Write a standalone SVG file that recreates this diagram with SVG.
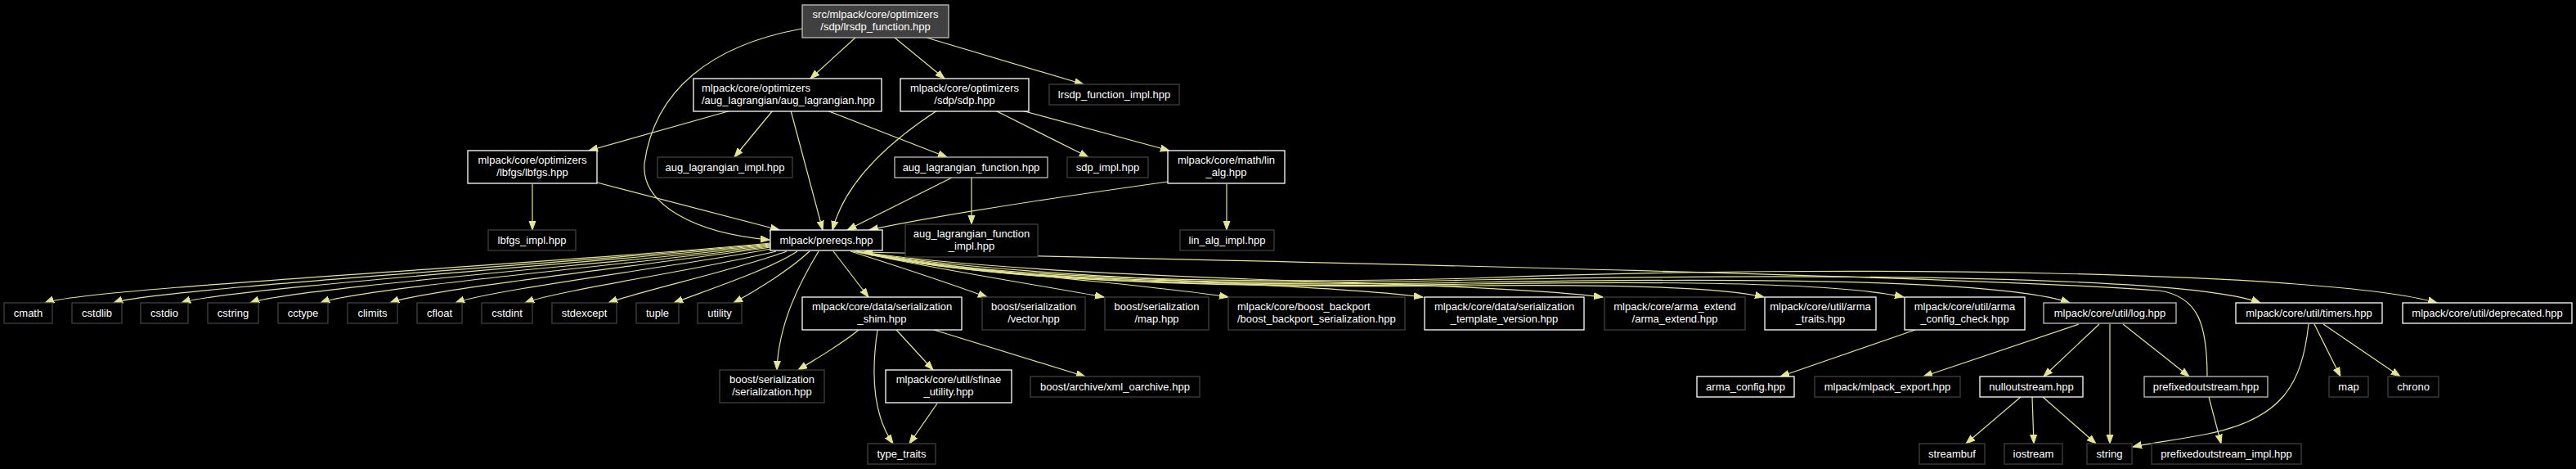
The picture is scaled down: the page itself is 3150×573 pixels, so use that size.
<svg xmlns="http://www.w3.org/2000/svg" width="3150" height="573" viewBox="0 0 3150 573">
<style>
.bg{fill:#000}
rect.w{fill:#000;stroke:#ffffff;stroke-width:1.3}
rect.g{fill:#000;stroke:#bfbfbf;stroke-width:1.3}
rect.d{fill:#000;stroke:#404040;stroke-width:1.3}
rect.r{fill:#404040;stroke:#bfbfbf;stroke-width:1.3}
text{fill:#ffffff;font-family:"Liberation Sans",Arial,Helvetica,sans-serif;font-size:13px;text-anchor:middle}
text.l{text-anchor:start}
#edges path{fill:none;stroke:#e6e68c;stroke-width:1.2;marker-end:url(#a)}
</style>
<defs>
<marker id="a" markerUnits="userSpaceOnUse" markerWidth="13" markerHeight="10" refX="11" refY="4.5" orient="auto">
<path d="M0,0.5 L11,4.5 L0,8.5 z" fill="#e6e68c" stroke="#e6e68c" stroke-width="1"/>
</marker>
</defs>
<rect class="bg" x="0" y="0" width="3150" height="573"/>
<g id="edges">
<path d="M1046,46 L991,96"/>
<path d="M1094,46 L1155,96"/>
<path d="M1133,46 L1325,103"/>
<path d="M981,35 C870,55 800,110 788,200 C784,250 850,285 941,293"/>
<path d="M894,135 L720,184"/>
<path d="M945,135 L898,192"/>
<path d="M967,135 L1006,281"/>
<path d="M1011,135 L1158,192"/>
<path d="M1146,135 C1100,165 1035,215 1018,281"/>
<path d="M1217,135 L1331,192"/>
<path d="M1249,135 L1430,184"/>
<path d="M651,225 L651,281"/>
<path d="M730,223 L953,281"/>
<path d="M1164,217 L1036,281"/>
<path d="M1188,217 L1188,274"/>
<path d="M1428,222 C1300,240 1150,262 1063,281"/>
<path d="M1500,225 L1500,281"/>
<path d="M942,297 C700,321 100,352 55,370"/>
<path d="M942,298 C720,320 185,353 139,370"/>
<path d="M942,299 C740,320 268,353 222,370"/>
<path d="M942,300 C760,321 350,353 306,370"/>
<path d="M942,301 C780,322 435,353 392,370"/>
<path d="M942,302 C800,323 518,354 477,370"/>
<path d="M943,304 C830,325 595,355 557,370"/>
<path d="M949,307 C870,327 680,355 642,370"/>
<path d="M962,307 C900,330 780,356 744,370"/>
<path d="M975,307 C940,330 860,356 824,370"/>
<path d="M990,307 C965,330 925,355 897,370"/>
<path d="M1001,307 C978,345 952,395 950,452"/>
<path d="M1019,307 L1062,363"/>
<path d="M1040,307 C1100,326 1160,346 1207,363"/>
<path d="M1043,307 C1150,330 1280,350 1350,363"/>
<path d="M1045,307 C1200,334 1420,349 1502,363"/>
<path d="M1047,307 C1250,342 1600,345 1740,363"/>
<path d="M1048,307 C1300,345 1800,342 1960,363"/>
<path d="M1048,307 C1200,344 1500,352 1800,349 C2000,347 2110,352 2157,363"/>
<path d="M1048,307 C1200,344 1500,352 1800,347 C2100,342 2260,348 2328,363"/>
<path d="M1048,307 C1200,343 1500,351 1800,345 C2200,338 2460,345 2531,370"/>
<path d="M1048,307 C1200,342 1500,350 1800,342 C2250,333 2680,338 2764,370"/>
<path d="M1048,307 C1200,340 1500,348 1800,340 C2250,322 2850,332 2980,370"/>
<path d="M2699,460 C2699,400 2690,362 2640,355 C2400,337 1500,318 1056,308"/>
<path d="M1050,403 C1030,420 1000,437 976,452"/>
<path d="M1073,403 C1066,450 1066,505 1092,542"/>
<path d="M1096,403 L1141,452"/>
<path d="M1142,403 L1327,460"/>
<path d="M1146,493 L1112,542"/>
<path d="M2342,403 L2177,460"/>
<path d="M2542,396 L2352,460"/>
<path d="M2567,396 L2499,460"/>
<path d="M2580,396 L2580,542"/>
<path d="M2596,396 L2677,460"/>
<path d="M2471,485 L2404,542"/>
<path d="M2485,485 L2487,542"/>
<path d="M2498,485 L2563,542"/>
<path d="M2701,485 L2716,542"/>
<path d="M2830,396 L2862,460"/>
<path d="M2841,396 L2935,460"/>
<path d="M2823,396 C2815,470 2790,512 2700,530 C2660,538 2630,541 2608,546"/>
</g>
<g id="n_root"><rect class="r" x="981" y="6" width="179" height="40"/><text x="1070.5" y="22">src/mlpack/core/optimizers</text><text x="1070.5" y="37">/sdp/lrsdp_function.hpp</text></g>
<g id="n_aug_lagrangian"><rect class="w" x="848" y="96" width="230" height="40"/><text class="l" x="858" y="112">mlpack/core/optimizers</text><text class="l" x="858" y="127">/aug_lagrangian/aug_lagrangian.hpp</text></g>
<g id="n_sdp"><rect class="w" x="1101" y="96" width="157" height="40"/><text x="1179.5" y="112">mlpack/core/optimizers</text><text x="1179.5" y="127">/sdp/sdp.hpp</text></g>
<g id="n_lrsdp_impl"><rect class="d" x="1283" y="103" width="159" height="25"/><text x="1362.5" y="120">lrsdp_function_impl.hpp</text></g>
<g id="n_lbfgs"><rect class="w" x="572" y="184" width="158" height="40"/><text x="651" y="200">mlpack/core/optimizers</text><text x="651" y="215">/lbfgs/lbfgs.hpp</text></g>
<g id="n_aug_lagrangian_impl"><rect class="d" x="804" y="192" width="165" height="25"/><text x="886.5" y="209">aug_lagrangian_impl.hpp</text></g>
<g id="n_aug_lagrangian_function"><rect class="g" x="1094" y="192" width="187" height="25"/><text x="1187.5" y="209">aug_lagrangian_function.hpp</text></g>
<g id="n_sdp_impl"><rect class="d" x="1305" y="192" width="99" height="25"/><text x="1354.5" y="209">sdp_impl.hpp</text></g>
<g id="n_lin_alg"><rect class="w" x="1428" y="184" width="143" height="40"/><text x="1499.5" y="200">mlpack/core/math/lin</text><text x="1499.5" y="215">_alg.hpp</text></g>
<g id="n_prereqs"><rect class="w" x="942" y="281" width="137" height="25"/><text x="1010.5" y="298">mlpack/prereqs.hpp</text></g>
<g id="n_lbfgs_impl"><rect class="d" x="597" y="281" width="107" height="25"/><text x="650.5" y="298">lbfgs_impl.hpp</text></g>
<g id="n_aug_lagrangian_function_impl"><rect class="d" x="1107" y="274" width="162" height="40"/><text x="1188" y="290">aug_lagrangian_function</text><text x="1188" y="305">_impl.hpp</text></g>
<g id="n_lin_alg_impl"><rect class="d" x="1443" y="281" width="115" height="25"/><text x="1500.5" y="298">lin_alg_impl.hpp</text></g>
<g id="n_cmath"><rect class="d" x="5" y="370" width="59" height="25"/><text x="34.5" y="387">cmath</text></g>
<g id="n_cstdlib"><rect class="d" x="88" y="370" width="61" height="25"/><text x="118.5" y="387">cstdlib</text></g>
<g id="n_cstdio"><rect class="d" x="172" y="370" width="58" height="25"/><text x="201" y="387">cstdio</text></g>
<g id="n_cstring"><rect class="d" x="254" y="370" width="62" height="25"/><text x="285" y="387">cstring</text></g>
<g id="n_cctype"><rect class="d" x="340" y="370" width="61" height="25"/><text x="370.5" y="387">cctype</text></g>
<g id="n_climits"><rect class="d" x="425" y="370" width="61" height="25"/><text x="455.5" y="387">climits</text></g>
<g id="n_cfloat"><rect class="d" x="510" y="370" width="55" height="25"/><text x="537.5" y="387">cfloat</text></g>
<g id="n_cstdint"><rect class="d" x="589" y="370" width="62" height="25"/><text x="620" y="387">cstdint</text></g>
<g id="n_stdexcept"><rect class="d" x="675" y="370" width="79" height="25"/><text x="714.5" y="387">stdexcept</text></g>
<g id="n_tuple"><rect class="d" x="778" y="370" width="52" height="25"/><text x="804" y="387">tuple</text></g>
<g id="n_utility"><rect class="d" x="853" y="370" width="54" height="25"/><text x="880" y="387">utility</text></g>
<g id="n_shim"><rect class="w" x="981" y="363" width="195" height="40"/><text x="1078.5" y="379">mlpack/core/data/serialization</text><text x="1078.5" y="394">_shim.hpp</text></g>
<g id="n_vector"><rect class="d" x="1201" y="363" width="126" height="40"/><text x="1264" y="379">boost/serialization</text><text x="1264" y="394">/vector.hpp</text></g>
<g id="n_map_hpp"><rect class="d" x="1351" y="363" width="127" height="40"/><text x="1414.5" y="379">boost/serialization</text><text x="1414.5" y="394">/map.hpp</text></g>
<g id="n_backport"><rect class="d" x="1502" y="363" width="216" height="40"/><text class="l" x="1513" y="379">mlpack/core/boost_backport</text><text class="l" x="1513" y="394">/boost_backport_serialization.hpp</text></g>
<g id="n_template_version"><rect class="w" x="1742" y="363" width="195" height="40"/><text x="1839.5" y="379">mlpack/core/data/serialization</text><text x="1839.5" y="394">_template_version.hpp</text></g>
<g id="n_arma_extend"><rect class="d" x="1962" y="363" width="172" height="40"/><text x="2048" y="379">mlpack/core/arma_extend</text><text x="2048" y="394">/arma_extend.hpp</text></g>
<g id="n_arma_traits"><rect class="w" x="2158" y="363" width="136" height="40"/><text x="2226" y="379">mlpack/core/util/arma</text><text x="2226" y="394">_traits.hpp</text></g>
<g id="n_arma_config_check"><rect class="w" x="2329" y="363" width="147" height="40"/><text x="2402.5" y="379">mlpack/core/util/arma</text><text x="2402.5" y="394">_config_check.hpp</text></g>
<g id="n_log"><rect class="g" x="2499" y="370" width="162" height="25"/><text x="2580" y="387">mlpack/core/util/log.hpp</text></g>
<g id="n_timers"><rect class="w" x="2734" y="370" width="179" height="25"/><text x="2823.5" y="387">mlpack/core/util/timers.hpp</text></g>
<g id="n_deprecated"><rect class="w" x="2938" y="370" width="207" height="25"/><text x="3041.5" y="387">mlpack/core/util/deprecated.hpp</text></g>
<g id="n_serialization"><rect class="d" x="880" y="452" width="128" height="40"/><text x="944" y="468">boost/serialization</text><text x="944" y="483">/serialization.hpp</text></g>
<g id="n_sfinae"><rect class="w" x="1083" y="452" width="154" height="40"/><text x="1160" y="468">mlpack/core/util/sfinae</text><text x="1160" y="483">_utility.hpp</text></g>
<g id="n_xml_oarchive"><rect class="d" x="1260" y="460" width="207" height="25"/><text x="1363.5" y="477">boost/archive/xml_oarchive.hpp</text></g>
<g id="n_arma_config"><rect class="w" x="2075" y="460" width="119" height="25"/><text x="2134.5" y="477">arma_config.hpp</text></g>
<g id="n_mlpack_export"><rect class="d" x="2219" y="460" width="178" height="25"/><text x="2308" y="477">mlpack/mlpack_export.hpp</text></g>
<g id="n_nulloutstream"><rect class="w" x="2421" y="460" width="126" height="25"/><text x="2484" y="477">nulloutstream.hpp</text></g>
<g id="n_prefixedoutstream"><rect class="g" x="2622" y="460" width="151" height="25"/><text x="2697.5" y="477">prefixedoutstream.hpp</text></g>
<g id="n_map"><rect class="d" x="2848" y="460" width="48" height="25"/><text x="2872" y="477">map</text></g>
<g id="n_chrono"><rect class="d" x="2920" y="460" width="62" height="25"/><text x="2951" y="477">chrono</text></g>
<g id="n_type_traits"><rect class="d" x="1061" y="542" width="83" height="25"/><text x="1102.5" y="559">type_traits</text></g>
<g id="n_streambuf"><rect class="d" x="2347" y="542" width="80" height="25"/><text x="2387" y="559">streambuf</text></g>
<g id="n_iostream"><rect class="d" x="2451" y="542" width="71" height="25"/><text x="2486.5" y="559">iostream</text></g>
<g id="n_string"><rect class="d" x="2552" y="542" width="55" height="25"/><text x="2579.5" y="559">string</text></g>
<g id="n_prefixedoutstream_impl"><rect class="d" x="2631" y="542" width="183" height="25"/><text x="2722.5" y="559">prefixedoutstream_impl.hpp</text></g>
</svg>
